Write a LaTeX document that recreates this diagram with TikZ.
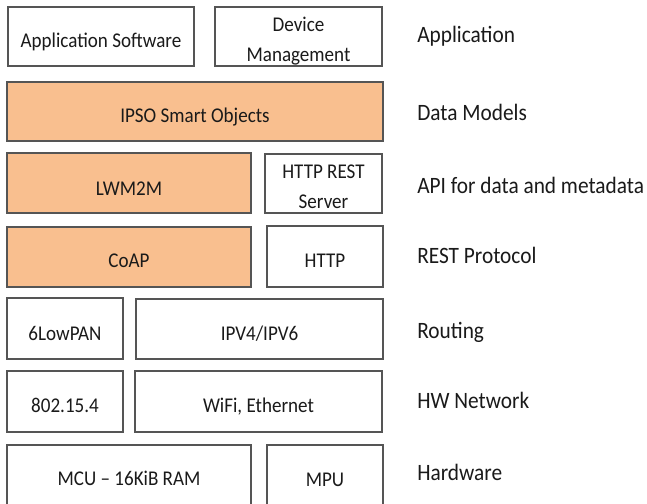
\documentclass[tikz,border=0pt]{standalone}
\usepackage{fontspec}
\setmainfont{Carlito}
\usepackage{graphicx}
\usetikzlibrary{fit}
\definecolor{peach}{HTML}{F9BF8F}
\definecolor{edge}{HTML}{555555}
\definecolor{ink}{HTML}{1A1A1A}
\newcommand{\tallt}[1]{\scalebox{1}[1.1]{#1}}
\begin{document}
\begin{tikzpicture}[x=0.75pt,y=-0.75pt,
  box/.style={draw=edge, line width=0.9pt, fill=white, inner sep=0pt},
  obox/.style={box, fill=peach},
  txt/.style={anchor=base, inner sep=0pt, text=ink, font=\fontsize{14.3}{17}\selectfont},
  lbl/.style={anchor=base west, inner sep=0pt, text=ink, font=\fontsize{16}{19}\selectfont}]
\clip (0,0) rectangle (647,504);
\fill[white] (0,0) rectangle (647,504);
% row 1
\node[box, fit={(8,7) (194,66)}] (appsw) {};
\node[txt] (appswT) at (101,47) {\tallt{Application Software}};
\node[box, fit={(215,7) (382,66)}] (devmgmt) {};
\node[txt] (devT1) at (298.5,31) {\tallt{Device}};
\node[txt] (devT2) at (298.5,61) {\tallt{Management}};
% row 2
\node[obox, fit={(7,82) (383,141)}] (ipso) {};
\node[txt] (ipsoT) at (195,122) {\tallt{IPSO Smart Objects}};
% row 3
\node[obox, fit={(7,153) (251,213)}] (lwm2m) {};
\node[txt] (lwm2mT) at (129,195) {\tallt{LWM2M}};
\node[box, fit={(265,154) (382,213)}] (httprest) {};
\node[txt] (httprestT1) at (323.5,178) {\tallt{HTTP REST}};
\node[txt] (httprestT2) at (323.5,208) {\tallt{Server}};
% row 4
\node[obox, fit={(7,227) (251,287)}] (coap) {};
\node[txt] (coapT) at (129,267) {\tallt{CoAP}};
\node[box, fit={(267,226) (383,287)}] (http) {};
\node[txt] (httpT) at (325,267) {\tallt{HTTP}};
% row 5
\node[box, fit={(7,298) (123,359)}] (lowpan) {};
\node[txt] (lowpanT) at (65,340) {\tallt{6LowPAN}};
\node[box, fit={(136,299) (383,359)}] (ipv) {};
\node[txt] (ipvT) at (259.5,340) {\tallt{IPV4/IPV6}};
% row 6
\node[box, fit={(7,371) (123,432)}] (ieee) {};
\node[txt] (ieeeT) at (65,412) {\tallt{802.15.4}};
\node[box, fit={(135,371) (382,432)}] (wifi) {};
\node[txt] (wifiT) at (258.5,412) {\tallt{WiFi, Ethernet}};
% row 7
\node[box, fit={(7,445) (251,512)}] (mcu) {};
\node[txt] (mcuT) at (129,485) {\tallt{MCU -- 16KiB RAM}};
\node[box, fit={(267,445) (383,512)}] (mpu) {};
\node[txt] (mpuT) at (325,486.5) {\tallt{MPU}};
% labels
\node[lbl] (lapp) at (417,42) {\tallt{Application}};
\node[lbl] (ldm) at (417,120) {\tallt{Data Models}};
\node[lbl] (lapi) at (417,193) {\tallt{API for data and metadata}};
\node[lbl] (lrest) at (417,263) {\tallt{REST Protocol}};
\node[lbl] (lrout) at (417,338) {\tallt{Routing}};
\node[lbl] (lhw) at (417,408) {\tallt{HW Network}};
\node[lbl] (lhard) at (417,480) {\tallt{Hardware}};
\end{tikzpicture}
\end{document}
